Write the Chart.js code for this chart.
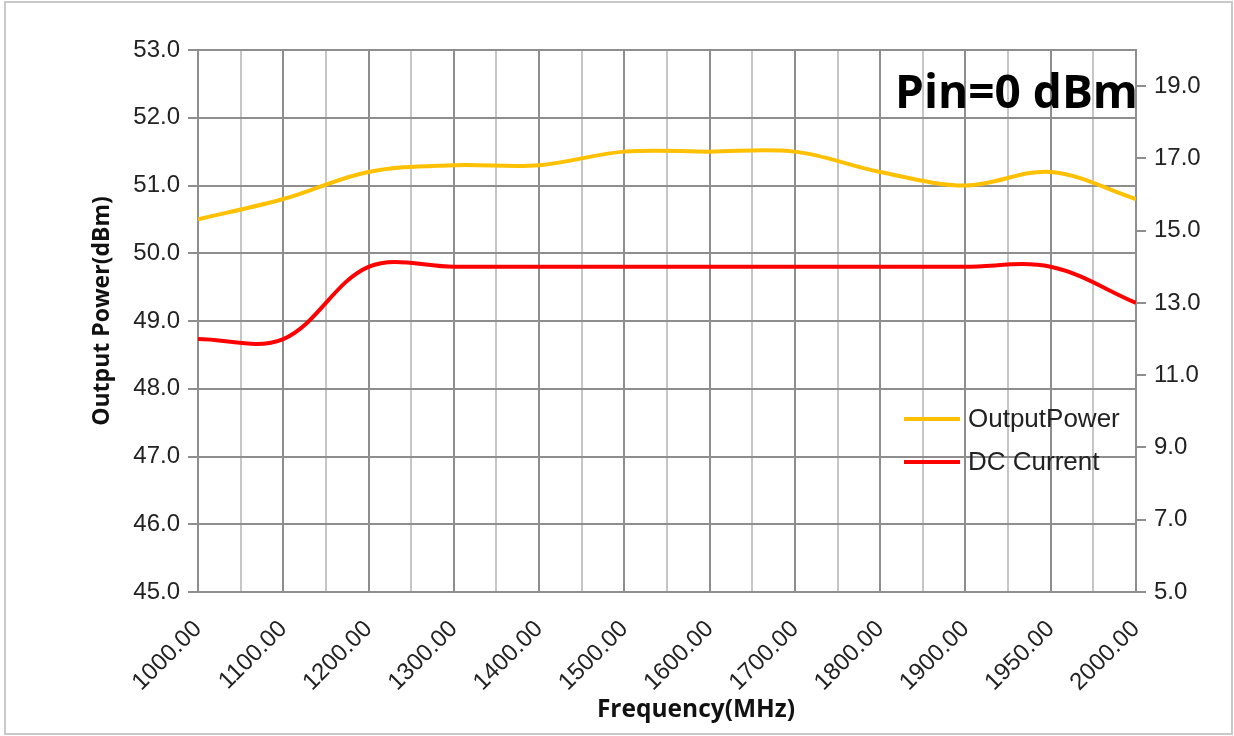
<!DOCTYPE html>
<html>
<head>
<meta charset="utf-8">
<script src="https://cdn.jsdelivr.net/npm/chart.js@4/dist/chart.umd.min.js"></script>
<style>
html, body { margin: 0; padding: 0; background: #fff; }
#wrap { position: relative; width: 1234px; height: 736px; }
</style>
</head>
<body>
<div id="wrap"><canvas id="c" width="1234" height="736"></canvas></div>
<script>
// ---- data ----
const frequencies = ['1000.00','1100.00','1200.00','1300.00','1400.00','1500.00','1600.00','1700.00','1800.00','1900.00','1950.00','2000.00'];
const outputPower = [50.5, 50.8, 51.2, 51.3, 51.3, 51.5, 51.5, 51.5, 51.2, 51.0, 51.2, 50.8];
const dcCurrent   = [12.0, 12.0, 14.0, 14.0, 14.0, 14.0, 14.0, 14.0, 14.0, 14.0, 14.0, 13.0];
const leftTicks  = [45, 46, 47, 48, 49, 50, 51, 52, 53];
const rightTicks = [5, 7, 9, 11, 13, 15, 17, 19];
const seriesNames = ['OutputPower', 'DC Current'];
const chartNote = 'Pin=0 dBm';
const xTitle = 'Frequency(MHz)';
const yTitle = 'Output Power(dBm)';

// ---- derived ----
const toPoints = arr => arr.map((v, i) => ({ x: i, y: v }));
const xTickValues = [];
for (let i = 0; i <= (frequencies.length - 1) * 2; i++) xTickValues.push(i / 2);

const MAJOR = '#8e8e8e';
const MINOR = '#c6c6c6';
const TXT = '#222222';
const SANS = '"Liberation Sans", Arial, sans-serif';
const TITLE_FONT = '"Open Sans", "Noto Sans", sans-serif';

Chart.defaults.font.family = SANS;
Chart.defaults.color = TXT;

const decorPlugin = {
  id: 'decor',
  beforeDraw(chart) {
    const ctx = chart.ctx;
    ctx.save();
    ctx.fillStyle = '#ffffff';
    ctx.fillRect(0, 0, chart.width, chart.height);
    ctx.strokeStyle = '#c9c9c9';
    ctx.lineWidth = 2;
    ctx.strokeRect(5, 2, chart.width - 7, chart.height - 4);
    ctx.restore();
  },
  afterDraw(chart) {
    const ctx = chart.ctx;
    const a = chart.chartArea;
    ctx.save();
    // note text
    ctx.fillStyle = '#000000';
    ctx.font = 'bold 46px ' + TITLE_FONT;
    ctx.textAlign = 'right';
    ctx.textBaseline = 'alphabetic';
    ctx.fillText(chartNote, a.right + 2, 108);
    // legend
    chart.data.datasets.forEach((ds, i) => {
      const y = 419 + i * 43;
      ctx.strokeStyle = ds.borderColor;
      ctx.lineWidth = 4;
      ctx.beginPath();
      ctx.moveTo(904, y);
      ctx.lineTo(960, y);
      ctx.stroke();
      ctx.fillStyle = TXT;
      ctx.font = '26px ' + SANS;
      ctx.textAlign = 'left';
      ctx.textBaseline = 'middle';
      ctx.fillText(ds.label, 968, y + 1);
    });
    // axis titles
    ctx.fillStyle = '#111111';
    ctx.font = 'bold 24.5px ' + TITLE_FONT;
    ctx.textAlign = 'center';
    ctx.textBaseline = 'middle';
    ctx.fillText(xTitle, 696, 710);
    ctx.font = 'bold 23px ' + TITLE_FONT;
    ctx.translate(102, 311);
    ctx.rotate(-Math.PI / 2);
    ctx.fillText(yTitle, 0, 0);
    ctx.restore();
  }
};

new Chart(document.getElementById('c'), {
  type: 'line',
  data: {
    datasets: [
      {
        label: seriesNames[0],
        data: toPoints(outputPower),
        borderColor: '#FFC000',
        backgroundColor: '#FFC000',
        borderWidth: 4,
        pointRadius: 0,
        tension: 0.35,
        yAxisID: 'y'
      },
      {
        label: seriesNames[1],
        data: toPoints(dcCurrent),
        borderColor: '#FF0000',
        backgroundColor: '#FF0000',
        borderWidth: 4,
        pointRadius: 0,
        tension: 0.35,
        yAxisID: 'y1'
      }
    ]
  },
  options: {
    responsive: false,
    animation: false,
    layout: { padding: { left: 0, right: 0, top: 50, bottom: 0 } },
    plugins: { legend: { display: false }, tooltip: { enabled: false } },
    scales: {
      x: {
        type: 'linear',
        min: 0,
        max: frequencies.length - 1,
        afterBuildTicks: s => { s.ticks = xTickValues.map(v => ({ value: v })); },
        afterFit: s => { s.height = 144; },
        ticks: {
          autoSkip: false,
          maxRotation: 45,
          minRotation: 45,
          padding: 23,
          color: TXT,
          font: { size: 24 },
          callback: v => Number.isInteger(v) ? frequencies[v] : ''
        },
        grid: {
          color: c => (c.tick && Number.isInteger(c.tick.value)) ? MAJOR : MINOR,
          lineWidth: 2,
          drawTicks: false
        },
        border: { display: true, color: MAJOR, width: 2 }
      },
      y: {
        position: 'left',
        min: leftTicks[0],
        max: leftTicks[leftTicks.length - 1],
        afterBuildTicks: s => { s.ticks = leftTicks.map(v => ({ value: v })); },
        afterFit: s => { s.width = 198; },
        ticks: {
          padding: 8,
          color: TXT,
          font: { size: 24 },
          callback: v => Number(v).toFixed(1)
        },
        grid: { color: MAJOR, lineWidth: 2, drawTicks: true, tickLength: 10 },
        border: { display: true, color: MAJOR, width: 2 }
      },
      y1: {
        position: 'right',
        min: 5,
        max: 20,
        afterBuildTicks: s => { s.ticks = rightTicks.map(v => ({ value: v })); },
        afterFit: s => { s.width = 98; },
        ticks: {
          padding: 8,
          color: TXT,
          font: { size: 24 },
          callback: v => Number(v).toFixed(1)
        },
        grid: { drawOnChartArea: false, color: MAJOR, lineWidth: 2, drawTicks: true, tickLength: 10 },
        border: { display: true, color: MAJOR, width: 2 }
      }
    }
  },
  plugins: [decorPlugin]
});
</script>
</body>
</html>
